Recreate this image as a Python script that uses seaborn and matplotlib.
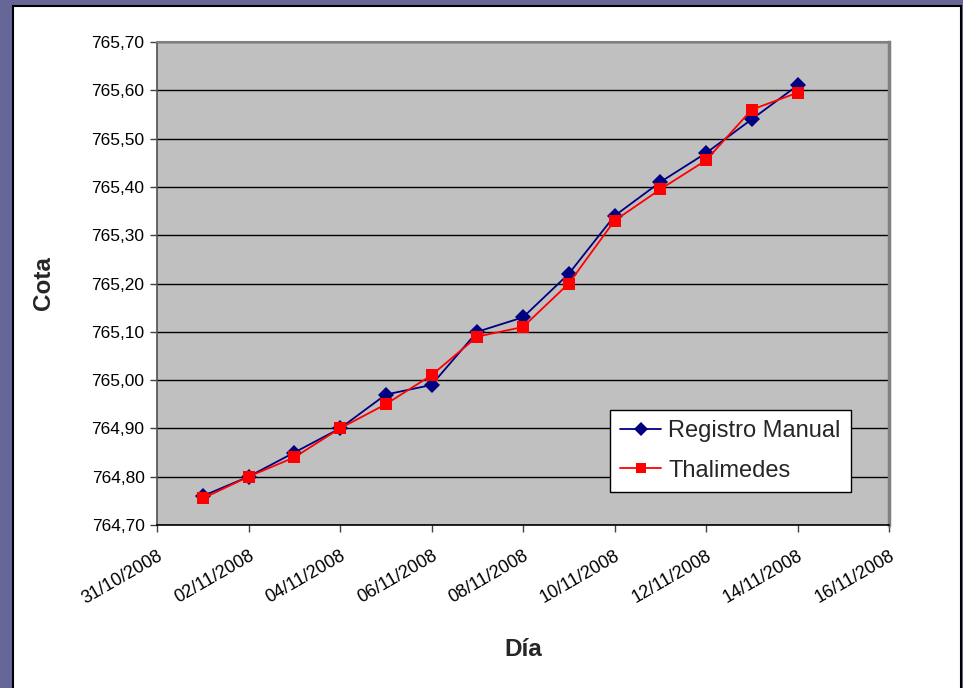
import matplotlib
matplotlib.use("Agg")
import matplotlib.pyplot as plt
import matplotlib.dates as mdates
from matplotlib.patches import Rectangle
from matplotlib.lines import Line2D
from matplotlib.ticker import FixedLocator, FuncFormatter
import seaborn as sns
import pandas as pd

# ---- data ----
dates = ["2008-11-01", "2008-11-02", "2008-11-03", "2008-11-04", "2008-11-05",
         "2008-11-06", "2008-11-07", "2008-11-08", "2008-11-09", "2008-11-10",
         "2008-11-11", "2008-11-12", "2008-11-13", "2008-11-14"]
registro_manual = [764.76, 764.80, 764.85, 764.90, 764.97, 764.99, 765.10,
                   765.13, 765.22, 765.34, 765.41, 765.47, 765.54, 765.61]
thalimedes = [764.755, 764.80, 764.84, 764.90, 764.95, 765.01, 765.09,
              765.11, 765.20, 765.33, 765.395, 765.455, 765.56, 765.595]
series_names = ["Registro Manual", "Thalimedes"]
x_ticks = ["2008-10-31", "2008-11-02", "2008-11-04", "2008-11-06", "2008-11-08",
           "2008-11-10", "2008-11-12", "2008-11-14", "2008-11-16"]
y_ticks = [764.70, 764.80, 764.90, 765.00, 765.10, 765.20, 765.30, 765.40,
           765.50, 765.60, 765.70]
x_label = "Día"
y_label = "Cota"

df = pd.DataFrame({
    "Día": pd.to_datetime(dates * 2),
    "Cota": registro_manual + thalimedes,
    "Serie": [series_names[0]] * len(dates) + [series_names[1]] * len(dates),
})

sns.set_style("white")
plt.rcParams["font.family"] = ["Liberation Sans", "DejaVu Sans"]

W, H = 963, 688
fig = plt.figure(figsize=(W / 100, H / 100), dpi=100)
fig.patch.set_facecolor("#666699")
fig.patches.append(Rectangle((13 / W, -0.02), (961 - 13) / W, (688 - 6) / H + 0.02,
                             transform=fig.transFigure, facecolor="white",
                             edgecolor="black", lw=1.5, zorder=-1))

ax = fig.add_axes([157 / W, 1 - 525 / H, (889 - 157) / W, (525 - 42) / H])
ax.set_facecolor("#c0c0c0")

palette = {series_names[0]: "#000080", series_names[1]: "#ff0000"}
markers = {series_names[0]: "D", series_names[1]: "s"}
sns.lineplot(data=df, x="Día", y="Cota", hue="Serie", style="Serie",
             palette=palette, markers=markers, dashes=False, ax=ax,
             markersize=8.5, markeredgewidth=0, linewidth=1.3, legend=False)

ax.set_xlim(mdates.date2num(pd.Timestamp(x_ticks[0])),
            mdates.date2num(pd.Timestamp(x_ticks[-1])))
ax.set_ylim(y_ticks[0], y_ticks[-1])
ax.xaxis.set_major_locator(FixedLocator([mdates.date2num(pd.Timestamp(d)) for d in x_ticks]))
ax.xaxis.set_major_formatter(mdates.DateFormatter("%d/%m/%Y"))
ax.yaxis.set_major_locator(FixedLocator(y_ticks))
ax.yaxis.set_major_formatter(FuncFormatter(lambda v, p: f"{v:.2f}".replace(".", ",")))

ax.yaxis.grid(True, color="black", lw=1.0)
ax.xaxis.grid(False)
ax.set_axisbelow(True)

for s in ["top", "right"]:
    ax.spines[s].set_color("#808080")
ax.spines["top"].set_linewidth(1.5)
ax.spines["right"].set_linewidth(2.5)
ax.spines["left"].set_color("#505050")
ax.spines["left"].set_linewidth(1.2)
ax.spines["bottom"].set_color("black")
ax.spines["bottom"].set_linewidth(1.2)

ax.tick_params(axis="both", which="major", direction="out", length=5, width=1,
               color="#404040", labelsize=12.5, labelcolor="black")
ax.tick_params(axis="x", pad=11, labelsize=13)
ax.tick_params(axis="y", pad=4)
ax.tick_params(left=True, bottom=True)
for lab in ax.get_xticklabels():
    lab.set_rotation(30)
    lab.set_ha("right")
    lab.set_va("top")
    lab.set_rotation_mode("anchor")

ax.set_xlabel(x_label, fontsize=17.5, fontweight="bold", labelpad=22)
ax.set_ylabel(y_label, fontsize=17.5, fontweight="bold", labelpad=26)

handles = [Line2D([0], [0], color=palette[n], marker=markers[n], markersize=7.5,
                  markeredgewidth=0, lw=1.3) for n in series_names]
leg = ax.legend(handles, series_names, loc="upper left",
                bbox_to_anchor=((610 - 157) / 732, (525 - 410) / 483),
                fontsize=17, frameon=True, fancybox=False,
                framealpha=1, edgecolor="black", handlelength=1.75,
                handletextpad=0.3, borderpad=0.42, labelspacing=0.75,
                borderaxespad=0)
leg.get_frame().set_linewidth(1.0)

fig.savefig("out.png", dpi=100, facecolor=fig.get_facecolor())
